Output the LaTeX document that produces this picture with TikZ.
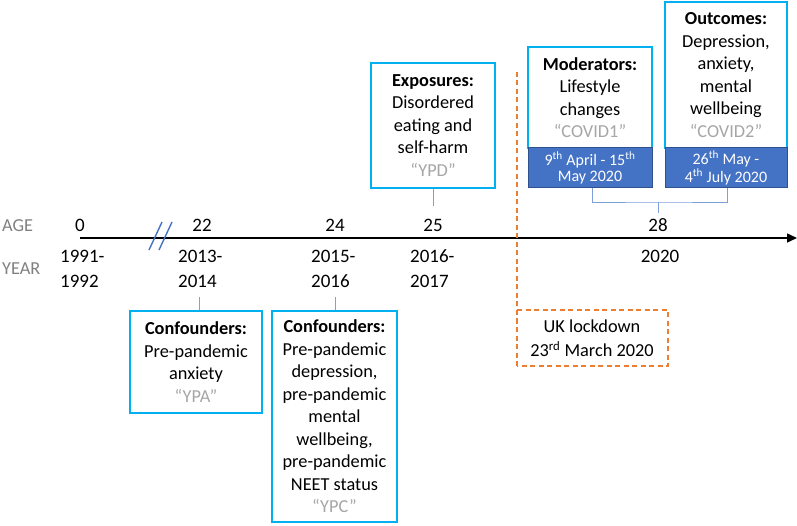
\documentclass[tikz,border=0pt]{standalone}
\usepackage{fontspec}
\setmainfont{Carlito}
\usetikzlibrary{arrows.meta}
\definecolor{boxcyan}{HTML}{00B0F0}
\definecolor{darkfill}{HTML}{4472C4}
\definecolor{darkedge}{HTML}{2F528F}
\definecolor{linkblue}{HTML}{7F9FD8}
\definecolor{lockorange}{HTML}{ED7D31}
\definecolor{labgray}{HTML}{808080}
\definecolor{quotegray}{HTML}{A6A6A6}
\newcommand{\qlab}[1]{\textcolor{quotegray}{#1}}
\tikzset{
  infobox/.style={draw=boxcyan, line width=1.8pt, fill=white, align=center,
    inner sep=0pt, font=\fontsize{18.3pt}{22.5pt}\selectfont},
  datebox/.style={draw=darkedge, line width=1pt, fill=darkfill, text=white, align=center,
    inner sep=0pt, font=\fontsize{16pt}{16.5pt}\selectfont},
  link/.style={draw=linkblue, line width=0.9pt},
  agelab/.style={anchor=base, inner sep=0pt, font=\fontsize{19pt}{22pt}\selectfont},
  yearlab/.style={anchor=base west, inner sep=0pt, align=left, font=\fontsize{19pt}{25pt}\selectfont},
  sidelab/.style={anchor=base west, inner sep=0pt, text=labgray, font=\fontsize{18.3pt}{22pt}\selectfont},
  lockline/.style={draw=lockorange, line width=1.3pt, dash pattern=on 5pt off 3.5pt},
}
\begin{document}
\begin{tikzpicture}[x=1pt,y=-1pt]
\useasboundingbox (0,0) rectangle (797,526);

% side labels
\node[sidelab] (agehead) at (2,232) {AGE};
\node[sidelab] (yearhead) at (2,275) {YEAR};

% axis
\coordinate (axstart) at (80,238);
\coordinate (axend) at (797,238);
\draw[line width=1.4pt, -{Triangle[length=10pt,width=9pt]}] (axstart) -- (axend);
% break mark
\coordinate (b1a) at (149,250); \coordinate (b1b) at (162,222);
\coordinate (b2a) at (159,250); \coordinate (b2b) at (172,222);
\draw[darkfill, line width=1.4pt] (b1a) -- (b1b) (b2a) -- (b2b);

% ages
\node[agelab] (a0) at (80,232) {0};
\node[agelab] (a22) at (202,232) {22};
\node[agelab] (a24) at (335,232) {24};
\node[agelab] (a25) at (433,232) {25};
\node[agelab] (a28) at (658,232) {28};

% years (base anchor = last line)
\node[yearlab] (y0) at (60,288) {1991-\\1992};
\node[yearlab] (y22) at (178,288) {2013-\\2014};
\node[yearlab] (y24) at (311,288) {2015-\\2016};
\node[yearlab] (y25) at (410,288) {2016-\\2017};
\node[agelab] (y28) at (660,263) {2020};

% lockdown
\coordinate (lktop) at (517,72);
\coordinate (lkbot) at (517,366);
\draw[lockline] (lktop) -- (lkbot);
\draw[lockline] (517,310) -- (668,310) -- (668,366) -- (517,366);
\node[align=center, inner sep=0pt, font=\fontsize{18.3pt}{24pt}\selectfont] (lock) at (592,338)
  {UK lockdown\\23\textsuperscript{rd} March 2020};

% boxes below axis
\node[infobox, minimum width=132pt, minimum height=102pt] (ypa) at (196,362)
  {\textbf{Confounders:}\\Pre-pandemic\\anxiety\\\qlab{“YPA”}};
\node[infobox, minimum width=125pt, minimum height=211pt] (ypc) at (334.5,416.5)
  {\textbf{Confounders:}\\Pre-pandemic\\depression,\\pre-pandemic\\mental\\wellbeing,\\pre-pandemic\\NEET status\\\qlab{“YPC”}};
\coordinate (ypatop) at (199,297);
\coordinate (ypctop) at (335,297);
\draw[link] (ypatop) -- (ypatop |- ypa.north);
\draw[link] (ypctop) -- (ypctop |- ypc.north);

% exposure box
\node[infobox, minimum width=124pt, minimum height=125pt] (ypd) at (433,125.5)
  {\textbf{Exposures:}\\Disordered\\eating and\\self-harm\\\qlab{“YPD”}};
\coordinate (ypdlow) at (433,206);
\draw[link] (ypd.south) -- (ypdlow);

% covid boxes
\node[infobox, minimum width=124pt, minimum height=101pt] (cv1) at (590,97.5)
  {\textbf{Moderators:}\\Lifestyle\\changes\\\qlab{“COVID1”}};
\node[datebox, minimum width=124pt, minimum height=40pt] (cv1d) at (590,168)
  {9\textsuperscript{th} April - 15\textsuperscript{th}\\May 2020};
\node[infobox, minimum width=122pt, minimum height=146pt] (cv2) at (726,75)
  {\textbf{Outcomes:}\\Depression,\\anxiety,\\mental\\wellbeing\\\qlab{“COVID2”}};
\node[datebox, minimum width=122pt, minimum height=40pt] (cv2d) at (726,168)
  {26\textsuperscript{th} May -\\4\textsuperscript{th} July 2020};
\coordinate (cvjoin) at (658,202);
\coordinate (cvlow) at (658,213);
\draw[link] ([xshift=2pt]cv1d.south) |- (cvjoin) -| ([xshift=1pt]cv2d.south);
\draw[link] (cvjoin) -- (cvlow);
\end{tikzpicture}
\end{document}
